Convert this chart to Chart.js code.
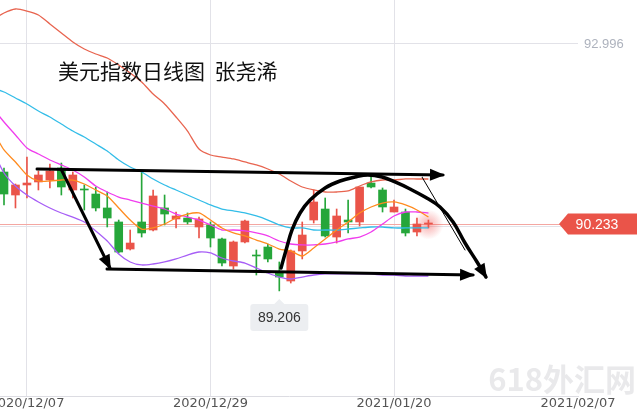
<!DOCTYPE html>
<html>
<head>
<meta charset="utf-8">
<script src="https://cdn.jsdelivr.net/npm/chart.js@4.4.0/dist/chart.umd.min.js"></script>
<style>
  html, body { margin: 0; padding: 0; background: #fff; }
  #wrap { width: 637px; height: 411px; position: relative; }
</style>
</head>
<body>
<div id="wrap"><canvas id="myChart"></canvas></div>
<script>
'use strict';

// trading days; the first one sits just off the left edge
const dates = ['2020/12/02', '2020/12/03', '2020/12/04', '2020/12/07', '2020/12/08', '2020/12/09', '2020/12/10',
  '2020/12/11', '2020/12/14', '2020/12/15', '2020/12/16', '2020/12/17', '2020/12/18', '2020/12/21', '2020/12/22',
  '2020/12/23', '2020/12/24', '2020/12/25', '2020/12/28', '2020/12/29', '2020/12/30', '2020/12/31', '2021/01/01',
  '2021/01/04', '2021/01/05', '2021/01/06', '2021/01/07', '2021/01/08', '2021/01/11', '2021/01/12', '2021/01/13',
  '2021/01/14', '2021/01/15', '2021/01/18', '2021/01/19', '2021/01/20', '2021/01/21', '2021/01/22', '2021/01/25'];

// daily candles (USD index)
const opens = [null, 91.031, 90.678, 90.832, 90.878, 90.908, 91.093, 90.755, 90.770, 90.693, 90.479, 90.264, 89.849,
  90.264, 90.141, 90.479, 90.310, 90.325, 90.187, 90.218, 90.003, 89.588, 89.957, 89.757, 89.880, 89.481, 89.358,
  89.819, 90.294, 90.463, 90.033, 90.294, 90.264, 90.862, 90.755, 90.417, 90.417, 90.110, 90.233];
const highs = [null, 91.093, 90.847, 91.261, 91.046, 91.154, 91.169, 91.031, 90.832, 90.801, 90.724, 90.294, 90.141,
  91.031, 90.755, 90.678, 90.417, 90.402, 90.340, 90.264, 90.018, 89.972, 90.294, 89.834, 89.926, 89.650, 89.834,
  90.264, 90.755, 90.632, 90.463, 90.601, 90.801, 90.985, 90.786, 90.601, 90.463, 90.325, 90.294];
const lows = [null, 90.525, 90.479, 90.632, 90.755, 90.786, 90.678, 90.632, 90.448, 90.433, 90.187, 89.788, 89.834,
  90.033, 90.126, 90.218, 90.172, 90.233, 90.018, 89.880, 89.588, 89.542, 89.941, 89.450, 89.650, 89.206, 89.327,
  89.696, 90.248, 90.033, 89.941, 90.095, 90.202, 90.786, 90.417, 90.417, 90.049, 90.049, 90.172];
const closes = [null, 90.693, 90.832, 90.862, 90.985, 91.046, 90.801, 90.985, 90.755, 90.479, 90.325, 89.803, 89.941,
  90.095, 90.663, 90.386, 90.356, 90.264, 90.310, 90.018, 89.634, 89.957, 90.279, 89.742, 89.696, 89.419, 89.819,
  90.064, 90.571, 90.049, 90.356, 90.264, 90.801, 90.801, 90.494, 90.494, 90.095, 90.233, 90.233];

// moving average and bollinger lines
const ma5 = [91.676, 91.369, 91.185, 90.985, 90.893, 90.893, 90.908, 90.908, 90.847, 90.755, 90.663, 90.479, 90.294,
  90.156, 90.172, 90.233, 90.325, 90.386, 90.402, 90.294, 90.172, 90.095, 90.049, 89.987, 89.926, 89.849, 89.819,
  89.742, 89.865, 90.003, 90.141, 90.264, 90.402, 90.494, 90.555, 90.571, 90.525, 90.448, 90.340];
const ma10 = [92.014, 91.799, 91.599, 91.400, 91.307, 91.215, 91.139, 91.062, 90.954, 90.816, 90.724, 90.647, 90.601,
  90.555, 90.509, 90.463, 90.386, 90.340, 90.294, 90.218, 90.141, 90.141, 90.126, 90.095, 90.049, 89.972, 89.926,
  89.911, 89.911, 89.926, 89.957, 90.003, 90.033, 90.110, 90.233, 90.356, 90.417, 90.417, 90.402];
const bollUpper = [93.364, 93.472, 93.533, 93.502, 93.441, 93.303, 93.165, 93.027, 92.919, 92.842, 92.781, 92.674,
  92.551, 92.413, 92.228, 92.075, 91.875, 91.660, 91.384, 91.292, 91.261, 91.231, 91.185, 91.139, 91.077, 91.000,
  90.893, 90.801, 90.755, 90.724, 90.724, 90.740, 90.816, 90.878, 90.908, 90.908, 90.924, 90.924, 90.924];
const bollMid = [92.320, 92.259, 92.167, 92.075, 91.967, 91.875, 91.768, 91.660, 91.568, 91.461, 91.353, 91.215,
  91.108, 91.031, 90.924, 90.832, 90.755, 90.678, 90.601, 90.525, 90.463, 90.433, 90.402, 90.356, 90.294, 90.218,
  90.172, 90.172, 90.141, 90.141, 90.141, 90.156, 90.172, 90.187, 90.187, 90.172, 90.172, 90.172, 90.172];
const bollLower = [91.369, 91.016, 90.816, 90.678, 90.571, 90.479, 90.402, 90.340, 90.264, 90.126, 89.972, 89.773,
  89.650, 89.604, 89.619, 89.650, 89.696, 89.757, 89.803, 89.788, 89.711, 89.665, 89.634, 89.558, 89.481, 89.419,
  89.389, 89.419, 89.450, 89.466, 89.466, 89.466, 89.466, 89.466, 89.450, 89.450, 89.435, 89.435, 89.435];

// axis ticks (last one is a future slot at the right edge)
const tickLabels = ['2020/12/07', '2020/12/29', '2021/01/20', '2021/02/07'];
const tickSlots = [3, 19, 35, 51.04];
const priceTicks = [92.996, 90.187];
const lastPrice = 90.233;
const lowPrice = 89.206;

const titleText = '美元指数日线图  张尧浠';
const watermark = '618外汇网';

// hand drawn marks on the picture, in (slot, price)
const channelTop = [[3.88, 91.077], [39.27, 90.985]];
const channelBottom = [[9.98, 89.542], [41.89, 89.450]];
const dropLine = [[5.97, 91.077], [10.24, 89.558]];
const thinLine = [[37.44, 90.954], [41.19, 89.834]];
const arcLine = [[25.15, 89.558], [25.59, 89.834], [26.11, 90.141], [26.81, 90.402], [27.68, 90.601],
  [28.99, 90.786], [30.29, 90.893], [31.60, 90.954], [32.73, 90.985], [33.96, 90.954], [35.09, 90.878],
  [36.40, 90.770], [37.70, 90.647], [39.01, 90.494], [40.15, 90.264], [41.19, 89.941], [42.24, 89.650],
  [43.02, 89.419]];

const RED = '#ea5449';
const GREEN = '#26a63a';

function candleColor(i) {
    return closes[i] >= opens[i] ? RED : GREEN;
}

const wickData = [];
const bodyData = [];
const candleColors = [];
for (let i = 0; i < dates.length; i++) {
    if (opens[i] === null) continue;
    wickData.push({ x: i, y: [lows[i], highs[i]] });
    bodyData.push({ x: i, y: [opens[i], closes[i]] });
    candleColors.push(candleColor(i));
}

function series(values) {
    return values.map((v, i) => ({ x: i, y: v }));
}

function pts(list) {
    return list.map(p => ({ x: p[0], y: p[1] }));
}

function maLine(values, color) {
    return {
        type: 'line', data: series(values), borderColor: color, borderWidth: 1.3,
        pointRadius: 0, tension: 0.25, order: 3
    };
}

function penLine(list, width, arrow, tension) {
    return {
        type: 'line', data: pts(list), borderColor: '#000', borderWidth: width,
        pointRadius: 0, tension: tension || 0, order: 0, arrow: arrow,
        borderCapStyle: 'round', borderJoinStyle: 'round'
    };
}

function arrowHead(ctx, from, to, len, half) {
    const a = Math.atan2(to.y - from.y, to.x - from.x);
    const bx = to.x - len * Math.cos(a);
    const by = to.y - len * Math.sin(a);
    ctx.beginPath();
    ctx.moveTo(to.x + 2 * Math.cos(a), to.y + 2 * Math.sin(a));
    ctx.lineTo(bx + half * Math.sin(a), by - half * Math.cos(a));
    ctx.lineTo(bx - half * Math.sin(a), by + half * Math.cos(a));
    ctx.closePath();
    ctx.fill();
}

const overlay = {
    id: 'overlay',
    beforeDatasetsDraw(chart) {
        const ctx = chart.ctx;
        const x = chart.scales.x;
        const y = chart.scales.y;
        const py = Math.round(y.getPixelForValue(lastPrice)) + 0.5;
        ctx.save();
        ctx.strokeStyle = '#f4a7a2';
        ctx.lineWidth = 1;
        ctx.beginPath();
        ctx.moveTo(chart.chartArea.left, py);
        ctx.lineTo(560, py);
        ctx.stroke();

        // glow round the live price
        const gx = x.getPixelForValue(dates.length - 1);
        const g = ctx.createRadialGradient(gx, py, 0, gx, py, 15);
        g.addColorStop(0, 'rgba(240,70,70,0.45)');
        g.addColorStop(1, 'rgba(240,70,70,0)');
        ctx.fillStyle = g;
        ctx.fillRect(gx - 16, py - 16, 32, 32);
        ctx.restore();
    },
    afterDatasetsDraw(chart) {
        const ctx = chart.ctx;
        const x = chart.scales.x;
        const y = chart.scales.y;
        ctx.save();

        // arrow heads on the pen marks
        ctx.fillStyle = '#000';
        chart.data.datasets.forEach((ds, di) => {
            if (!ds.arrow) return;
            const p = chart.getDatasetMeta(di).data;
            arrowHead(ctx, p[p.length - 2], p[p.length - 1], 13, 6);
        });

        // current price tag
        const py = y.getPixelForValue(lastPrice);
        ctx.fillStyle = '#ea5449';
        ctx.beginPath();
        ctx.moveTo(559, py);
        ctx.lineTo(568, py - 10.5);
        ctx.lineTo(637, py - 10.5);
        ctx.lineTo(637, py + 10.5);
        ctx.lineTo(568, py + 10.5);
        ctx.closePath();
        ctx.fill();
        ctx.fillStyle = '#fff';
        ctx.font = '14px "Liberation Sans", Arial, sans-serif';
        ctx.textAlign = 'center';
        ctx.textBaseline = 'middle';
        ctx.fillText(lastPrice.toFixed(3), 597, py + 1);

        // lowest low bubble
        let li = 1;
        for (let i = 1; i < lows.length; i++) if (lows[i] < lows[li]) li = i;
        const lx = x.getPixelForValue(li);
        const ly = y.getPixelForValue(lowPrice) + 8;
        ctx.fillStyle = '#eceef1';
        ctx.beginPath();
        ctx.moveTo(lx, ly);
        ctx.lineTo(lx + 6, ly + 6);
        ctx.lineTo(lx - 6, ly + 6);
        ctx.closePath();
        ctx.fill();
        ctx.beginPath();
        ctx.roundRect(lx - 29, ly + 5, 58, 27, 3);
        ctx.fill();
        ctx.fillStyle = '#333';
        ctx.fillText(lowPrice.toFixed(3), lx, ly + 19);

        // title
        ctx.fillStyle = '#111';
        ctx.font = '21px "Noto Sans CJK SC", sans-serif';
        ctx.textAlign = 'left';
        ctx.fillText(titleText, 58, 71);

        // site watermark
        ctx.fillStyle = 'rgba(120,120,130,0.16)';
        ctx.font = 'bold 31px "Noto Sans CJK SC", sans-serif';
        ctx.textAlign = 'right';
        ctx.fillText(watermark, 636, 379);
        ctx.restore();
    }
};

const ctx = document.getElementById('myChart').getContext('2d');
new Chart(ctx, {
    type: 'bar',
    data: {
        datasets: [
            penLine(channelTop, 3, true),
            penLine(channelBottom, 3, true),
            penLine(dropLine, 3, true),
            penLine(arcLine, 3.5, true, 0.4),
            penLine(thinLine, 1, false),
            maLine(ma5, '#ff8b1f'),
            maLine(ma10, '#f03cee'),
            maLine(bollUpper, '#e8644f'),
            maLine(bollMid, '#33bde8'),
            maLine(bollLower, '#a75ef6'),
            {
                type: 'bar', data: bodyData, backgroundColor: candleColors, barThickness: 8,
                minBarLength: 1, grouped: false, order: 5
            },
            {
                type: 'bar', data: wickData, backgroundColor: candleColors, barThickness: 1,
                grouped: false, order: 6
            }
        ]
    },
    options: {
        responsive: true,
        maintainAspectRatio: false,
        animation: false,
        layout: { padding: 0, autoPadding: false },
        plugins: { legend: { display: false }, tooltip: { enabled: false } },
        scales: {
            x: {
                type: 'linear',
                offset: false,
                min: 0.651,
                max: 51.04,
                afterBuildTicks: s => { s.ticks = tickSlots.map(v => ({ value: v })); },
                afterFit: s => { s.paddingLeft = 0; s.paddingRight = 0; s.height = 15; },
                ticks: {
                    autoSkip: false, maxRotation: 0, padding: 1, color: '#555',
                    font: { family: '"DejaVu Sans", sans-serif', size: 13, lineHeight: 1 },
                    callback: (v, i) => tickLabels[i]
                },
                grid: {
                    color: c => (c.index === tickSlots.length - 1 ? 'rgba(0,0,0,0)' : '#e2e2e8'),
                    drawTicks: false, offset: false
                },
                border: { display: true, color: '#dcdce2' }
            },
            y: {
                position: 'right',
                min: 87.593,
                max: 93.671,
                afterBuildTicks: s => { s.ticks = priceTicks.map(v => ({ value: v })); },
                afterFit: s => { s.width = 59; s.paddingTop = 0; s.paddingBottom = 0; },
                ticks: {
                    padding: 6, color: '#adb2bd',
                    font: { family: '"Liberation Sans", Arial, sans-serif', size: 13 },
                    callback: (v, i) => (i === 0 ? v.toFixed(3) : '')
                },
                grid: { color: '#e2e2e8', drawTicks: false },
                border: { display: false }
            }
        }
    },
    plugins: [overlay]
});
</script>
</body>
</html>
